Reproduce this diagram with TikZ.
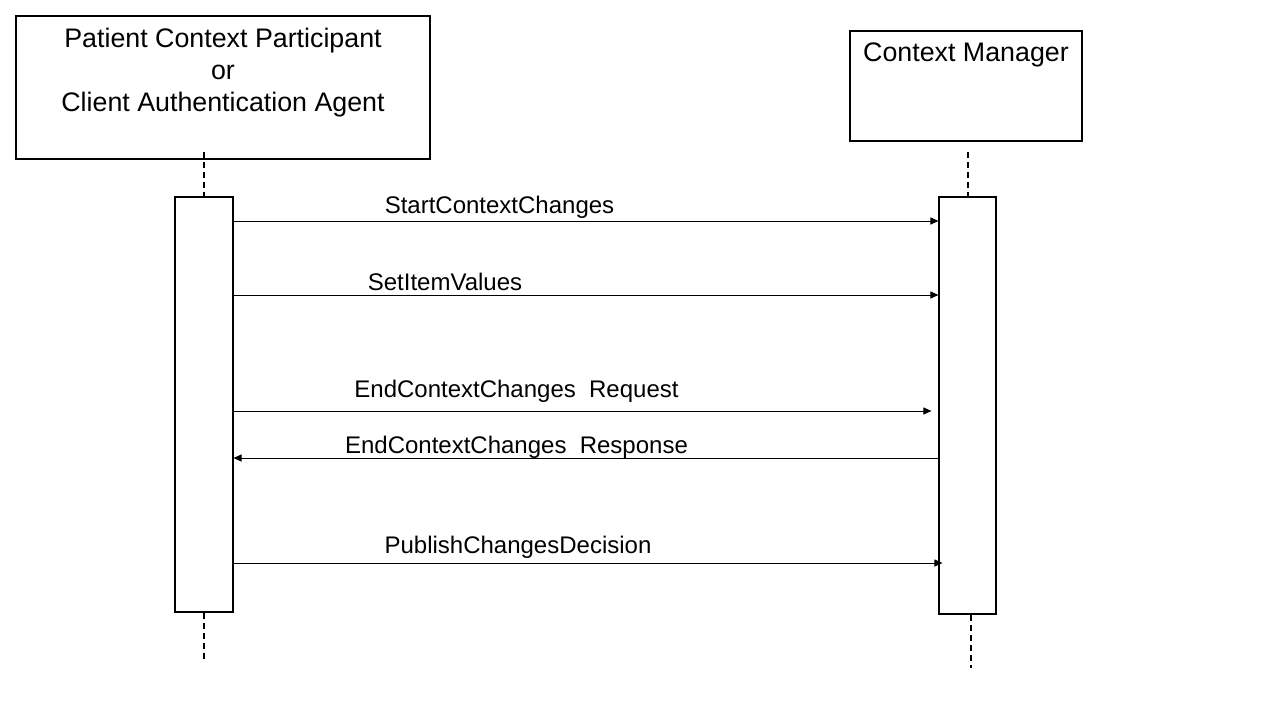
\documentclass[tikz,border=0pt]{standalone}
\usepackage{fontspec}
\setmainfont{Liberation Sans}
\usetikzlibrary{arrows.meta}
\tikzset{box/.style={draw, line width=0.55pt, rectangle, inner sep=0pt},
	hdrtext/.style={align=center, font=\fontsize{13.4}{16}\selectfont},
	life/.style={draw, line width=0.6pt, dash pattern=on 3pt off 2pt},
	msg/.style={draw, line width=0.5pt, -{Triangle[length=4pt,width=3.5pt]}},
	msgtext/.style={font=\fontsize{12}{14}\selectfont, anchor=base}}

\begin{document}
\begin{tikzpicture}[x=0.5pt,y=-0.5pt]
		\useasboundingbox[fill=white] (0,0) rectangle (1280,720);
		% header boxes
		\node[box, minimum width=207pt, minimum height=71.5pt] (pcp) at (223,87.5){};
		\node[box, minimum width=116pt, minimum height=55pt] (cm) at (966,86){};
		\node[hdrtext, anchor=north] (pcptxt) at ([yshift=-3pt]pcp.north){Patient Context Participant\\or\\Client Authentication Agent};
		\node[hdrtext, anchor=north] (cmtxt) at ([yshift=-2.5pt]cm.north){Context Manager};
		% activation boxes
		\node[box, minimum width=29pt, minimum height=207.5pt] (pact) at (204,404.5){};
		\node[box, minimum width=28.5pt, minimum height=208.5pt] (cact) at (967.5,405.5){};
		% lifelines
		\coordinate (pt) at (204,152);
		\coordinate (pb) at (204,660);
		\coordinate (ct) at (968,152);
		\coordinate (cb) at (971,668);
		\draw[life] (pt) -- (pact.north);
		\draw[life] (pact.south) -- (pb);
		\draw[life] (ct) -- (cact.north -| ct);
		\draw[life] (cact.south -| cb) -- (cb);
		% messages
		\draw[msg] (pact.east |- 0,221) -- (cact.west |- 0,221);
		\draw[msg] (pact.east |- 0,295) -- (cact.west |- 0,295);
		\draw[msg, shorten >=3.5pt] (pact.east |- 0,411) -- (cact.west |- 0,411);
		\draw[msg] (cact.west |- 0,458) -- (pact.east |- 0,458);
		\draw[msg, shorten >=-2pt] (pact.east |- 0,563) -- (cact.west |- 0,563);
		\node[msgtext] (m1) at (499.5,213.5){StartContextChanges};
		\node[msgtext] (m2) at (445,290.5){SetItemValues};
		\node[msgtext] (m3) at (516.5,397.5){EndContextChanges\ \ Request};
		\node[msgtext] (m4) at (516.5,453.5){EndContextChanges\ \ Response};
		\node[msgtext] (m5) at (518,553.5){PublishChangesDecision};
		\end{tikzpicture}
\end{document}
